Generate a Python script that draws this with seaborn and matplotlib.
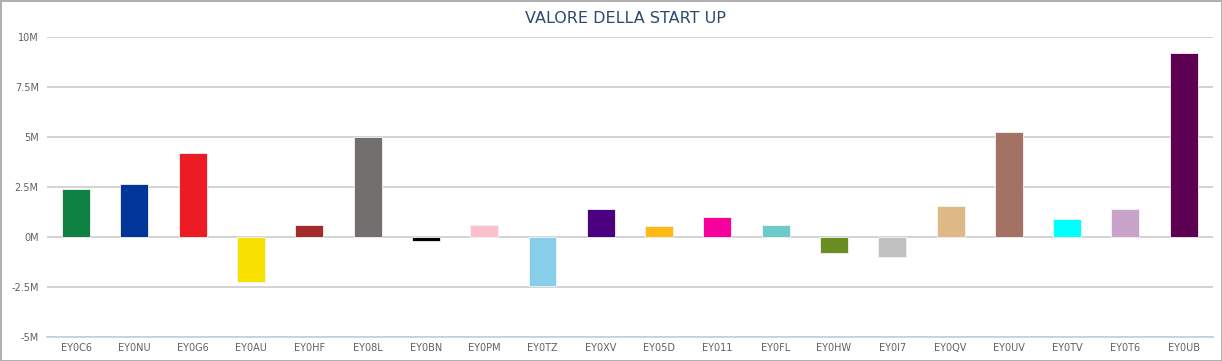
import pandas as pd
import matplotlib.pyplot as plt
import seaborn as sns
from matplotlib.ticker import FuncFormatter

# Dati del grafico
startup = ['EY0C6', 'EY0NU', 'EY0G6', 'EY0AU', 'EY0HF', 'EY08L', 'EY0BN', 'EY0PM', 'EY0TZ', 'EY0XV',
           'EY05D', 'EY011', 'EY0FL', 'EY0HW', 'EY0I7', 'EY0QV', 'EY0UV', 'EY0TV', 'EY0T6', 'EY0UB']
valore = [2.42, 2.64, 4.19, -2.26, 0.59, 5.0, -0.19, 0.59, -2.44, 1.38,
          0.54, 0.98, 0.59, -0.81, -0.99, 1.54, 5.27, 0.88, 1.38, 9.19]
colori = ['#0e8143', '#00369a', '#ed1c24', '#f8e000', '#a52a2a', '#736f6e', '#000000', '#fcc0cb',
          '#87ceeb', '#4b0082', '#feb914', '#f7009b', '#6ccacb', '#6b8e23', '#c0c0c0', '#deb887',
          '#a47264', '#00ffff', '#c8a2c8', '#5d0052']
y_ticks = [-5, -2.5, 0, 2.5, 5, 7.5, 10]

df = pd.DataFrame({'Startup': startup, 'Valore': [v * 1e6 for v in valore]})

sns.set_style('white')
plt.rcParams['font.family'] = ['DejaVu Sans']

fig = plt.figure(figsize=(12.22, 3.61), dpi=100)
fig.patch.set_edgecolor('#b0b0b0')
fig.patch.set_linewidth(2)
ax = fig.add_axes([0.0385, 0.0665, 0.954, 0.831])

sns.barplot(data=df, x='Startup', y='Valore', hue='Startup', palette=colori, legend=False,
            saturation=1, width=0.48, edgecolor='#f4f4f4', linewidth=0.6, ax=ax, zorder=3)

ax.set_ylim(-5e6, 10e6)
ax.set_xlim(-0.5, len(startup) - 0.5)
ax.set_yticks([t * 1e6 for t in y_ticks])
ax.yaxis.set_major_formatter(FuncFormatter(lambda v, p: '{:g}M'.format(v / 1e6).replace('−', '-')))
ax.grid(axis='y', color='#cccccc', linewidth=1.2, zorder=0)
ax.set_axisbelow(True)

for s in ['top', 'left', 'right']:
    ax.spines[s].set_visible(False)
ax.spines['bottom'].set_color('#c0d0e0')
ax.spines['bottom'].set_linewidth(1.2)

# tacche tra le categorie, etichette al centro
ax.set_xticks([i - 0.5 for i in range(len(startup) + 1)], minor=False)
ax.set_xticklabels([])
ax.set_xticks(range(len(startup)), minor=True)
ax.set_xticklabels(startup, minor=True)
ax.tick_params(axis='x', which='major', length=5, color='#c0d0e0', width=1)
ax.tick_params(axis='x', which='minor', length=0, labelsize=7, labelcolor='#606060', pad=4)
ax.tick_params(axis='y', length=0, labelsize=7, labelcolor='#606060', pad=6)

ax.set_xlabel('')
ax.set_ylabel('')
fig.text(0.512, 0.95, 'VALORE DELLA START UP', ha='center', va='center',
         fontsize=11.5, color='#2c4a6b')

plt.savefig('out.png', dpi=100)
